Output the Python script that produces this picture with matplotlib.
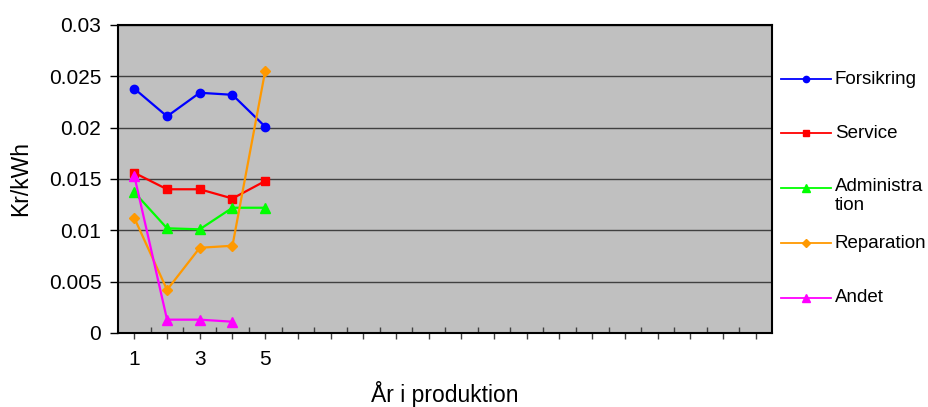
import matplotlib
matplotlib.use('Agg')
import matplotlib.pyplot as plt
from matplotlib.lines import Line2D

plt.rcParams['font.family'] = ['Liberation Sans', 'DejaVu Sans']

# Data (Kr/kWh per year in production)
years = [1, 2, 3, 4, 5]
forsikring = [0.0238, 0.0211, 0.0234, 0.0232, 0.0201]
service = [0.0156, 0.0140, 0.0140, 0.0131, 0.0148]
administration = [0.0137, 0.0102, 0.0101, 0.0122, 0.0122]
reparation = [0.0112, 0.0042, 0.0083, 0.0085, 0.0255]
andet = [0.0153, 0.0013, 0.0013, 0.0011]

n_categories = 20
tick_labels = ['1', '', '3', '', '5'] + [''] * 15
legend_labels = ['Forsikring', 'Service', 'Administra\ntion', 'Reparation', 'Andet']

series = [
    (forsikring, '#0000FF', 'o', 6),
    (service, '#FF0000', 's', 6),
    (administration, '#00FF00', '^', 7.5),
    (reparation, '#FF9900', 'D', 5.5),
    (andet, '#FF00FF', '^', 7.5),
]

fig = plt.figure(figsize=(9.29, 4.07), dpi=100)
ax = fig.add_axes([118 / 929, 1 - 333 / 407, (772 - 118) / 929, (333 - 25) / 407])
ax.set_facecolor('#C0C0C0')

for vals, col, mk, ms in series:
    ax.plot(years[:len(vals)], vals, color=col, marker=mk, markersize=ms, lw=1.6, zorder=3)

ax.set_xlim(0.5, n_categories + 0.5)
ax.set_ylim(0, 0.03)
ax.set_yticks([0, 0.005, 0.01, 0.015, 0.02, 0.025, 0.03])
ax.set_yticklabels(['0', '0.005', '0.01', '0.015', '0.02', '0.025', '0.03'])
ax.set_xticks(range(1, n_categories + 1))
ax.set_xticklabels(tick_labels)
ax.set_xticks([i + 0.5 for i in range(1, n_categories)], minor=True)
ax.yaxis.grid(True, color='#404040', lw=1)
ax.set_axisbelow(True)

ax.tick_params(axis='y', direction='out', length=6, width=1, pad=6, labelsize=15)
ax.tick_params(axis='x', which='major', direction='out', length=4, width=1,
               color='#404040', pad=8, labelsize=15)
ax.tick_params(axis='x', which='minor', direction='in', length=4, width=1, color='#404040')
for sp in ax.spines.values():
    sp.set_linewidth(1.5)
    sp.set_color('black')

ax.set_ylabel('Kr/kWh', fontsize=16.5, labelpad=12)
fig.text(445 / 929, 0.0, 'År i produktion', fontsize=16.5, ha='center', va='bottom')

# legend drawn by hand to keep Excel's layout
legend_y = [79, 133, 188, 243, 298]
for (vals, col, mk, ms), lab, yy in zip(series, legend_labels, legend_y):
    yf = 1 - yy / 407
    fig.add_artist(Line2D([781 / 929, 831 / 929], [yf, yf], color=col, lw=1.3,
                          transform=fig.transFigure))
    fig.add_artist(Line2D([806 / 929], [yf], color=col, marker=mk, markersize=ms * 0.75,
                          transform=fig.transFigure))
    if '\n' in lab:
        fig.text(835 / 929, 1 - (yy - 10) / 407, lab, fontsize=13.5, ha='left', va='top',
                 linespacing=1.15)
    else:
        fig.text(835 / 929, yf, lab, fontsize=13.5, ha='left', va='center')

fig.savefig('out.png', dpi=100)
